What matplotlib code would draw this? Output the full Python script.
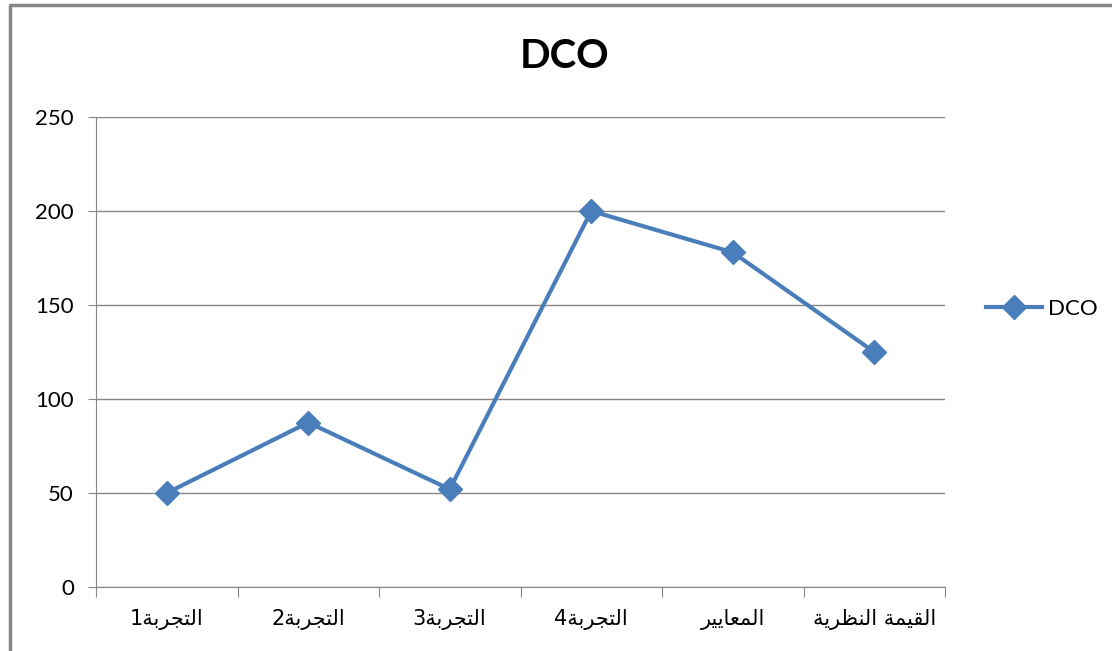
import matplotlib.pyplot as plt
from matplotlib.lines import Line2D

categories = ["التجربة1", "التجربة2", "التجربة3", "التجربة4", "المعايير", "القيمة النظرية"]
dco = [50, 87.5, 52, 200, 178, 125]
y_ticks = [0, 50, 100, 150, 200, 250]
series_name = "DCO"

# matplotlib does no arabic shaping / bidi, so map letters to presentation forms
FORMS = {
    'ا': (0xFE8D, 0xFE8E, None, None),
    'ب': (0xFE8F, 0xFE90, 0xFE91, 0xFE92),
    'ة': (0xFE93, 0xFE94, None, None),
    'ت': (0xFE95, 0xFE96, 0xFE97, 0xFE98),
    'ج': (0xFE9D, 0xFE9E, 0xFE9F, 0xFEA0),
    'ر': (0xFEAD, 0xFEAE, None, None),
    'ظ': (0xFEC5, 0xFEC6, 0xFEC7, 0xFEC8),
    'ع': (0xFEC9, 0xFECA, 0xFECB, 0xFECC),
    'ق': (0xFED5, 0xFED6, 0xFED7, 0xFED8),
    'ل': (0xFEDD, 0xFEDE, 0xFEDF, 0xFEE0),
    'م': (0xFEE1, 0xFEE2, 0xFEE3, 0xFEE4),
    'ن': (0xFEE5, 0xFEE6, 0xFEE7, 0xFEE8),
    'ي': (0xFEF1, 0xFEF2, 0xFEF3, 0xFEF4),
}


def shape(text):
    out = []
    for i, ch in enumerate(text):
        if ch not in FORMS:
            out.append(ch)
            continue
        prev = text[i - 1] if i > 0 else ''
        nxt = text[i + 1] if i + 1 < len(text) else ''
        f = FORMS[ch]
        join_prev = prev in FORMS and FORMS[prev][2] is not None
        join_next = f[2] is not None and nxt in FORMS
        if join_prev and join_next:
            out.append(chr(f[3]))
        elif join_prev:
            out.append(chr(f[1]))
        elif join_next:
            out.append(chr(f[2]))
        else:
            out.append(chr(f[0]))
    return ''.join(reversed(out))


W, H = 1112, 651
fig = plt.figure(figsize=(W / 100, H / 100), dpi=100)
ax = fig.add_axes([96 / W, (H - 587) / H, (945 - 96) / W, (587 - 117) / H])

blue = '#4A7EBB'
grey = '#868686'
x = [i + 0.5 for i in range(len(categories))]
ax.plot(x, dco, color=blue, lw=3, marker='D', ms=12, label=series_name)

ax.set_xlim(0, len(categories))
ax.set_ylim(0, 250)
ax.set_yticks(y_ticks)
ax.grid(axis='y', color=grey, lw=1)
ax.set_axisbelow(True)
ax.set_xticks(range(len(categories) + 1))
ax.set_xticklabels([])
ax.set_xticks(x, minor=True)
ax.set_xticklabels([shape(c) for c in categories], minor=True,
                   family=['DejaVu Sans'], fontsize=15)
ax.tick_params(axis='x', which='minor', length=0, pad=16)
ax.tick_params(axis='x', which='major', length=7, color=grey, direction='out')
ax.tick_params(axis='y', length=6, color=grey, pad=10)
for lbl in ax.get_yticklabels():
    lbl.set_family('Lato')
    lbl.set_fontsize(16)
for s in ['top', 'right']:
    ax.spines[s].set_visible(False)
for s in ['left', 'bottom']:
    ax.spines[s].set_color(grey)

fig.text(565 / W, 1 - 57 / H, "DCO", ha='center', va='center',
         family='Lato', fontweight='bold', fontsize=29)

fig.legend(loc='center left', bbox_to_anchor=(966 / W, 1 - 309 / H),
           frameon=False, prop={'family': 'Lato', 'size': 16},
           handlelength=2.5, handletextpad=0.3)

# chart frame (only left and top edges are in view)
fig.add_artist(Line2D([10 / W, 10 / W, 1], [0, 1 - 5 / H, 1 - 5 / H],
                      color=grey, lw=2.5, transform=fig.transFigure))

fig.savefig('out.png', dpi=100)
